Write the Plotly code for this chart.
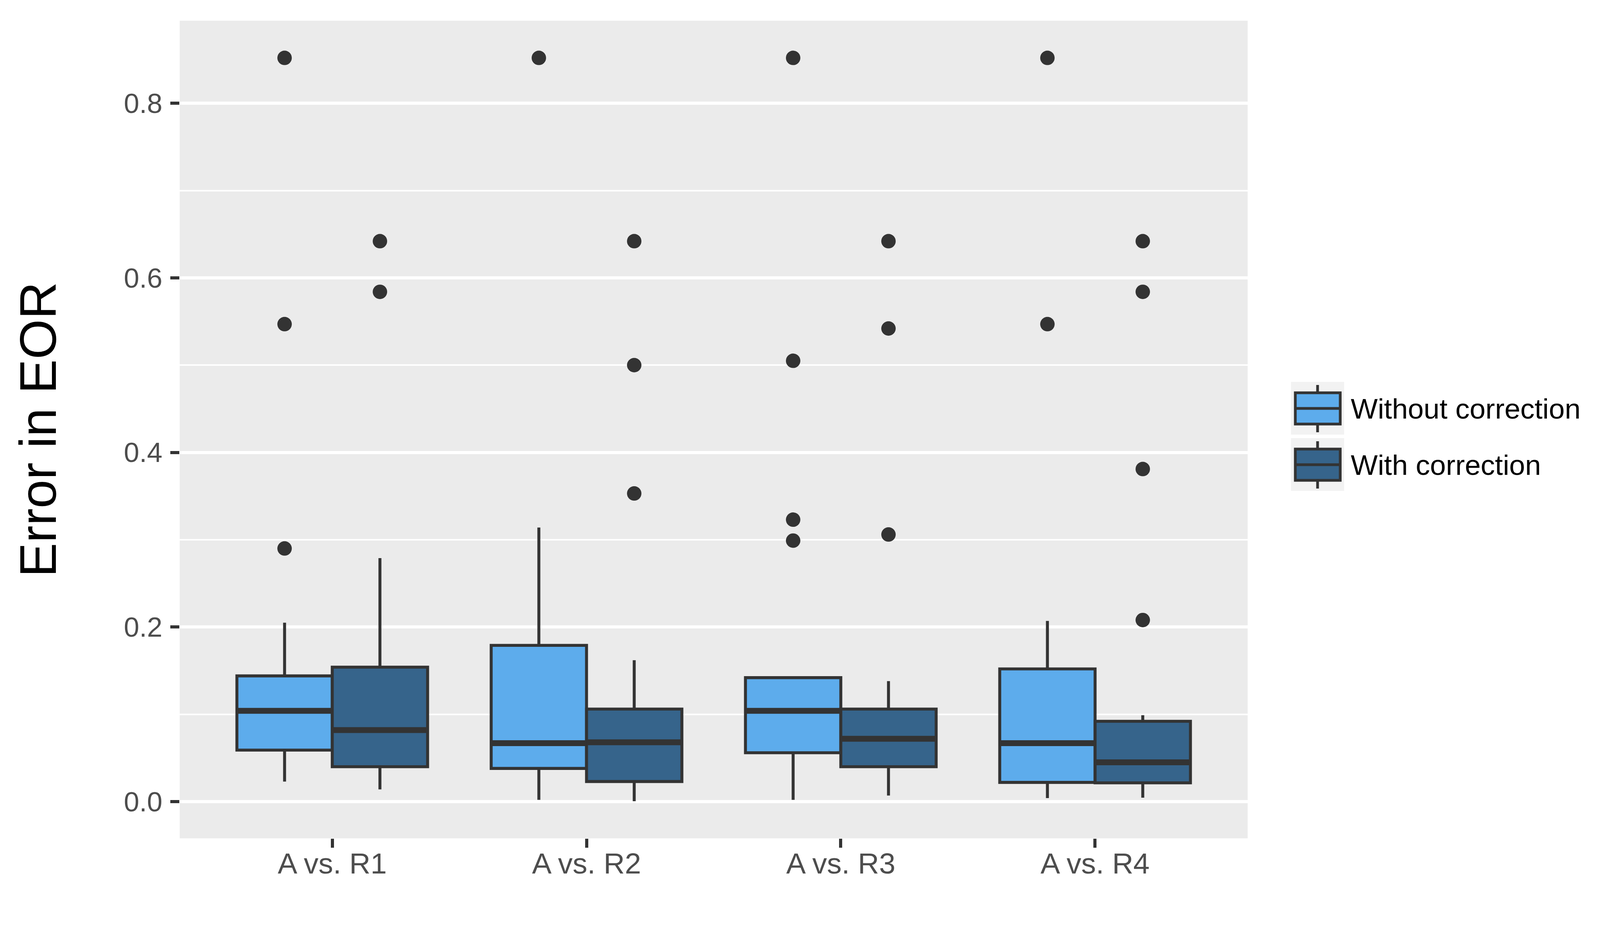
import plotly.graph_objects as go

categories = ["A vs. R1", "A vs. R2", "A vs. R3", "A vs. R4"]
groups = ["Without correction", "With correction"]

without_q1 = [0.059, 0.038, 0.056, 0.022]
without_median = [0.104, 0.067, 0.104, 0.067]
without_q3 = [0.144, 0.179, 0.142, 0.152]
without_lower = [0.023, 0.002, 0.002, 0.004]
without_upper = [0.205, 0.314, 0.142, 0.207]
without_outliers = [[0.290, 0.547, 0.852], [0.852], [0.299, 0.323, 0.505, 0.852], [0.547, 0.852]]

with_q1 = [0.040, 0.023, 0.040, 0.0215]
with_median = [0.082, 0.068, 0.072, 0.045]
with_q3 = [0.154, 0.106, 0.106, 0.092]
with_lower = [0.014, 0.0005, 0.007, 0.0045]
with_upper = [0.279, 0.162, 0.138, 0.099]
with_outliers = [[0.584, 0.642], [0.353, 0.500, 0.642], [0.306, 0.542, 0.642], [0.208, 0.381, 0.584, 0.642]]

fill_colors = ["#5DACEC", "#36648B"]
LINE = "#333333"
FONT = "Liberation Sans"

# layout geometry (pixels)
W, H = 4200, 2400
ML, MR, MT, MB = 452, 1014, 45, 263
PW = W - ML - MR
PH = H - MT - MB

dodge = 0.75
bw = dodge / 2
pos = [i + 1 for i in range(len(categories))]
offsets = [-bw / 2, bw / 2]

series = [
    (without_q1, without_median, without_q3, without_lower, without_upper, without_outliers),
    (with_q1, with_median, with_q3, with_lower, with_upper, with_outliers),
]

fig = go.Figure()
for gi, (q1, med, q3, lo, hi, outs) in enumerate(series):
    xs = [p + offsets[gi] for p in pos]
    fig.add_trace(go.Box(
        x=xs, q1=q1, median=med, q3=q3, lowerfence=lo, upperfence=hi,
        width=bw, fillcolor=fill_colors[gi],
        line=dict(color=LINE, width=7.6), whiskerwidth=0,
        boxpoints=False, name=groups[gi], showlegend=False,
    ))
    mx, my = [], []
    for x, m in zip(xs, med):
        mx += [x - bw / 2, x + bw / 2, None]
        my += [m, m, None]
    fig.add_trace(go.Scatter(x=mx, y=my, mode="lines",
                             line=dict(color=LINE, width=15),
                             showlegend=False, hoverinfo="skip"))
    ox, oy = [], []
    for x, ol in zip(xs, outs):
        for v in ol:
            ox.append(x)
            oy.append(v)
    fig.add_trace(go.Scatter(x=ox, y=oy, mode="markers",
                             marker=dict(color=LINE, size=37),
                             showlegend=False))

allv = without_lower + with_lower + [v for o in without_outliers + with_outliers for v in o]
vmin, vmax = min(allv), max(allv)
pad = (vmax - vmin) * 0.05

# custom ggplot-like legend
def px2x(px):
    return (px - ML) / PW

def py2y(py):
    return (H - MB - py) / PH

shapes = []
annotations = []
key_tops = [969, 1113]
for gi in range(2):
    t = key_tops[gi]
    shapes.append(dict(type="rect", xref="paper", yref="paper",
                       x0=px2x(3297), x1=px2x(3433), y0=py2y(t + 135), y1=py2y(t),
                       fillcolor="#F2F2F2", line=dict(width=0), layer="above"))
    shapes.append(dict(type="line", xref="paper", yref="paper",
                       x0=px2x(3365), x1=px2x(3365), y0=py2y(t + 129), y1=py2y(t + 8),
                       line=dict(color=LINE, width=7), layer="above"))
    shapes.append(dict(type="rect", xref="paper", yref="paper",
                       x0=px2x(3308), x1=px2x(3423), y0=py2y(t + 108), y1=py2y(t + 28),
                       fillcolor=fill_colors[gi], line=dict(color=LINE, width=7), layer="above"))
    shapes.append(dict(type="line", xref="paper", yref="paper",
                       x0=px2x(3308), x1=px2x(3423), y0=py2y(t + 68), y1=py2y(t + 68),
                       line=dict(color=LINE, width=7), layer="above"))
    annotations.append(dict(xref="paper", yref="paper", x=px2x(3448), y=py2y(t + 68),
                            xanchor="left", yanchor="middle", showarrow=False,
                            text=groups[gi], font=dict(family=FONT, size=73, color="black")))

fig.update_layout(
    width=W, height=H,
    margin=dict(l=ML, r=MR, t=MT, b=MB, pad=0),
    paper_bgcolor="white", plot_bgcolor="#EBEBEB",
    font=dict(family=FONT),
    showlegend=False,
    shapes=shapes, annotations=annotations,
    xaxis=dict(
        range=[0.4, len(categories) + 0.6],
        tickmode="array", tickvals=pos, ticktext=categories,
        showgrid=False, zeroline=False, showline=False,
        ticks="outside", ticklen=23, tickwidth=8, tickcolor=LINE,
        tickfont=dict(family=FONT, size=75, color="#4D4D4D"),
        ticklabelstandoff=-24,
    ),
    yaxis=dict(
        range=[vmin - pad, vmax + pad],
        tickmode="linear", tick0=0, dtick=0.2, tickformat=".1f",
        showgrid=True, gridcolor="white", gridwidth=8.4,
        zeroline=False, showline=False,
        ticks="outside", ticklen=23, tickwidth=8, tickcolor=LINE,
        tickfont=dict(family=FONT, size=71, color="#4D4D4D"),
        ticklabelstandoff=6,
        minor=dict(dtick=0.1, tick0=0, showgrid=True, gridcolor="white", gridwidth=4, ticks=""),
        title=dict(text="Error in EOR", font=dict(family=FONT, size=132, color="black"), standoff=128),
    ),
)

fig.write_html("out.html")
